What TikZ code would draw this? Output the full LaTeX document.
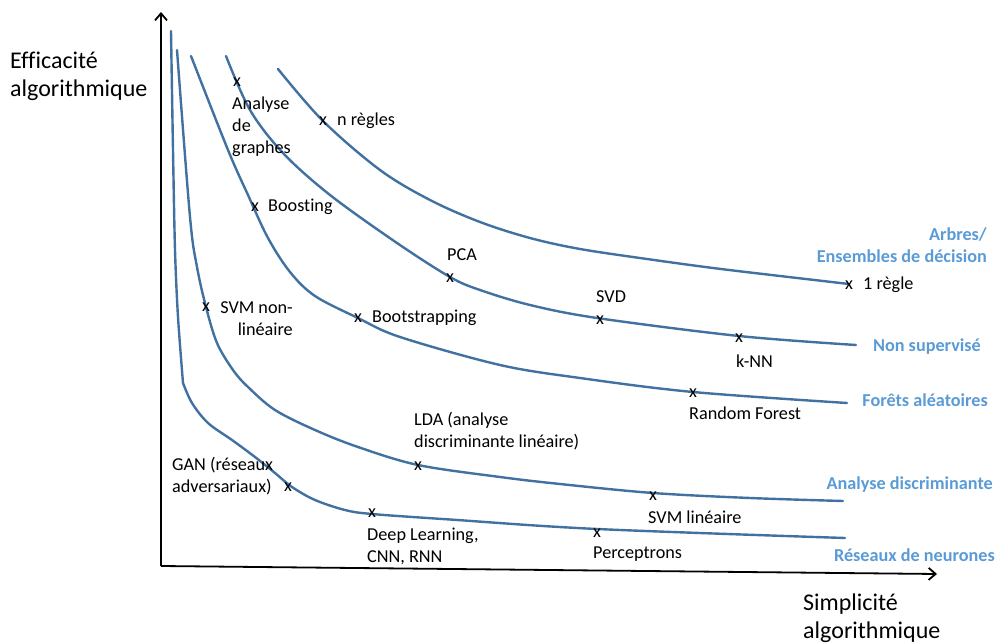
\documentclass[tikz,border=0pt]{standalone}
\usepackage{fontspec}
\setmainfont{Carlito}[Ligatures=NoCommon]
\usetikzlibrary{arrows.meta}
\definecolor{curveblue}{RGB}{65,113,160}
\definecolor{labelblue}{RGB}{91,155,213}
\begin{document}
\begin{tikzpicture}[x=1pt,y=-1pt,
  curve/.style={curveblue,line width=2.4pt,line cap=round},
  axis/.style={black,line width=1.8pt,-{Straight Barb[length=7pt,width=12pt,line width=1.8pt]}},
  lbl/.style={font=\fontsize{18.2}{22}\selectfont,inner sep=0pt,anchor=west,align=left,text=black},
  grp/.style={font=\fontsize{18.2}{22}\selectfont\bfseries,inner sep=0pt,anchor=east,align=right,text=labelblue},
  axlbl/.style={font=\fontsize{24}{28}\selectfont,inner sep=0pt,anchor=west,align=left,text=black},
  mk/.style={font=\fontsize{18.2}{22}\selectfont,inner sep=0pt,text=black}]
\useasboundingbox (0,0) rectangle (996,644);
% axes
\coordinate (O) at (161,566);
\coordinate (Ytop) at (161,12);
\coordinate (Xend) at (937,574);
\draw[axis] (O) -- (Ytop);
\draw[axis] (O) -- (Xend);
\node[axlbl] (ylab) at (10,76) {Efficacité\\algorithmique};
\node[axlbl] (xlab) at (803,618) {Simplicité\\algorithmique};
% curves
% Réseaux de neurones
\draw[curve] plot[smooth,tension=0.5] coordinates {(171,31) (173,150) (175,250) (178,317) (183,383)};
\draw[curve] plot[smooth,tension=0.55] coordinates {(183,383) (192,403) (208,423) (232,440) (255,457) (275,473) (292,487) (315,500) (345,510) (372,514) (450,519.5) (597,529) (845,538)};
% Analyse discriminante
\draw[curve] plot[smooth,tension=0.55] coordinates {(177,50) (190,217) (197,267) (206,307) (217,343) (233,370) (248,387) (275,410) (315,430) (358,447) (418,465) (500,477) (560,484) (653,493) (750,498) (843,501)};
% Forêts aléatoires
\draw[curve] plot[smooth,tension=0.55] coordinates {(191,56) (228,150) (248,195) (268,238) (290,272) (315,296) (358,318) (400,337) (500,365) (580,378) (693,392) (847,403)};
% Non supervisé
\draw[curve] plot[smooth,tension=0.55] coordinates {(226,56) (250,110) (283,153) (330,195) (397,243) (450,277) (480,290) (530,305) (597,318) (739,336) (856,345)};
% Arbres
\draw[curve] plot[smooth,tension=0.55] coordinates {(278,69) (323,121) (380,170) (430,200) (480,222) (530,238) (580,249) (647,259) (713,268) (780,276) (849,284)};
% markers
\node[mk] (m1) at (237,82) {x};
\node[mk] (m2) at (323,121) {x};
\node[mk] (m3) at (255,207) {x};
\node[mk] (m4) at (450,278) {x};
\node[mk] (m5) at (206,307) {x};
\node[mk] (m6) at (358,318) {x};
\node[mk] (m7) at (418,466) {x};
\node[mk] (m8) at (288,487) {x};
\node[mk] (m9) at (372,513) {x};
\node[mk] (m10) at (600,320) {x};
\node[mk] (m11) at (849,285) {x};
\node[mk] (m12) at (739,338) {x};
\node[mk] (m13) at (693,393) {x};
\node[mk] (m14) at (653,496) {x};
\node[mk] (m15) at (597,533) {x};
% labels
\node[lbl] (l1) at (232,127) {Analyse\\de\\graphes};
\node[lbl] (l2) at (337,121) {n règles};
\node[lbl] (l3) at (268,207) {Boosting};
\node[lbl,anchor=center] (l4) at (462,255) {PCA};
\node[lbl,anchor=east,align=right] (l5) at (293,319) {SVM non-\\linéaire};
\node[lbl] (l6) at (372,318) {Bootstrapping};
\node[lbl] (l7) at (414,431) {LDA (analyse\\discriminante linéaire)};
\node[lbl] (l8) at (172,476) {GAN (réseaux\\adversariaux)};
\node[lbl] (l9) at (367,546) {Deep Learning,\\CNN, RNN};
\node[lbl] (l10) at (596,297) {SVD};
\node[lbl] (l11) at (863,285) {1 règle};
\node[lbl] (l12) at (736,361) {k-NN};
\node[lbl] (l13) at (689,413) {Random Forest};
\node[lbl] (l14) at (648,517) {SVM linéaire};
\node[lbl] (l15) at (593,554) {Perceptrons};
% group labels
\node[grp] (g1) at (987,245) {Arbres/\\Ensembles de décision};
\node[grp] (g2) at (981,347) {Non supervisé};
\node[grp] (g3) at (988,400) {Forêts aléatoires};
\node[grp] (g4) at (993,485) {Analyse discriminante};
\node[grp] (g5) at (995,555) {Réseaux de neurones};
\end{tikzpicture}
\end{document}
